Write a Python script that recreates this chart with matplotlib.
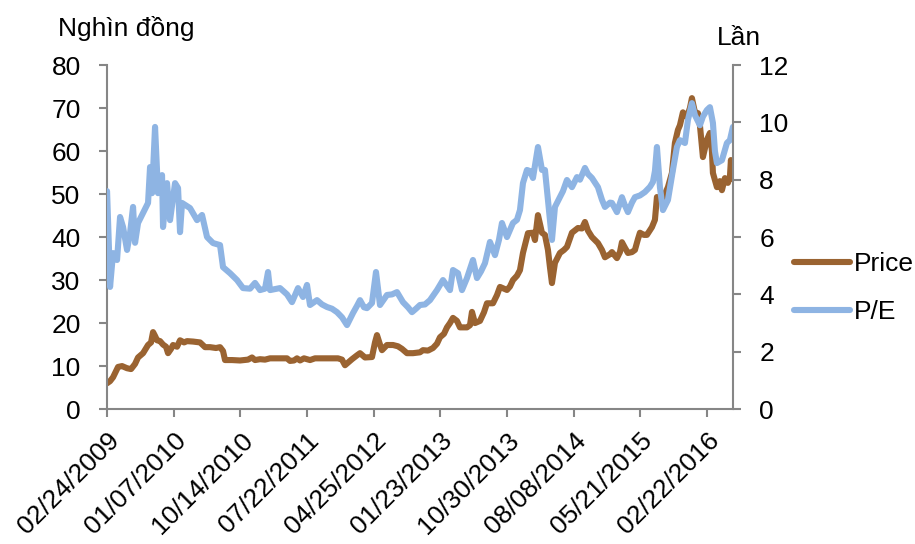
import matplotlib
matplotlib.use("Agg")
import matplotlib.pyplot as plt
from matplotlib.lines import Line2D

plt.rcParams['font.family'] = ['Liberation Sans', 'DejaVu Sans']

# trading-session index (tick labels every 200 sessions) and closing price, thousand VND
price_day = [0, 9, 18, 33, 45, 60, 72, 84, 93, 108, 123, 132, 138, 144, 150, 159, 168, 177,
             183, 192, 198, 210, 219, 231, 240, 258, 279, 294, 309, 327, 339, 348, 354, 375,
             399, 423, 435, 444, 459, 474, 489, 519, 540, 549, 561, 570, 579, 591, 609, 624,
             639, 669, 693, 705, 714, 726, 735, 750, 759, 774, 795, 804, 810, 819, 825, 840,
             858, 873, 885, 900, 918, 939, 948, 963, 978, 990, 999, 1011, 1020, 1029, 1038,
             1050, 1059, 1080, 1089, 1095, 1104, 1119, 1131, 1140, 1158, 1170, 1179, 1191,
             1200, 1209, 1218, 1230, 1239, 1248, 1263, 1278, 1284, 1293, 1305, 1314, 1323,
             1329, 1335, 1344, 1359, 1371, 1380, 1395, 1413, 1425, 1434, 1443, 1455, 1473,
             1485, 1494, 1509, 1515, 1530, 1539, 1545, 1554, 1563, 1575, 1584, 1593, 1599,
             1611, 1620, 1635, 1644, 1650, 1659, 1665, 1674, 1683, 1695, 1704, 1713, 1719,
             1728, 1740, 1749, 1755, 1764, 1773, 1779, 1788, 1800, 1809, 1815, 1818, 1830,
             1839, 1845, 1854, 1863, 1869, 1872, 1878]
price = [6.0, 6.5, 7.4, 9.8, 10.0, 9.5, 9.3, 10.5, 12.0, 13.0, 14.9, 15.5, 17.9, 17.0, 16.0,
         15.8, 15.0, 14.5, 13.0, 14.0, 14.9, 14.5, 16.0, 15.5, 15.8, 15.7, 15.5, 14.4, 14.4,
         14.2, 14.4, 13.5, 11.4, 11.4, 11.3, 11.5, 12.0, 11.4, 11.6, 11.5, 11.8, 11.8, 11.8,
         11.2, 11.3, 11.8, 11.3, 11.8, 11.4, 11.8, 11.8, 11.8, 11.8, 11.5, 10.2, 11.0, 11.6,
         12.5, 13.0, 12.0, 12.1, 15.5, 17.2, 15.0, 13.7, 14.9, 14.9, 14.6, 14.0, 13.0, 13.0,
         13.2, 13.7, 13.6, 14.2, 15.2, 16.7, 17.5, 19.0, 20.0, 21.2, 20.5, 19.0, 19.0, 19.5,
         22.6, 20.0, 20.5, 22.5, 24.6, 24.6, 26.5, 28.4, 28.0, 27.7, 28.5, 30.0, 31.0, 32.3,
         36.3, 40.9, 41.0, 39.3, 45.1, 41.0, 40.5, 37.0, 33.0, 29.3, 34.0, 36.3, 37.0, 37.7,
         41.0, 42.1, 42.0, 43.5, 41.5, 40.0, 38.6, 37.0, 35.3, 36.0, 36.5, 35.1, 36.5, 38.8,
         37.5, 36.3, 36.5, 37.0, 39.5, 41.0, 40.5, 40.5, 42.3, 44.0, 49.3, 48.6, 48.6, 50.0,
         51.6, 54.9, 61.9, 64.9, 66.0, 69.0, 67.9, 70.0, 72.3, 69.0, 68.8, 66.0, 58.6, 62.6,
         64.2, 60.0, 54.9, 51.6, 53.0, 50.9, 53.7, 52.6, 54.0, 57.9, 53.5]

# P/E ratio, times
pe_day = [0, 6, 9, 18, 30, 39, 48, 60, 69, 78, 84, 93, 108, 123, 129, 135, 144, 153, 165,
          168, 180, 189, 204, 213, 219, 225, 249, 270, 285, 300, 318, 339, 348, 369, 390,
          408, 429, 444, 459, 474, 483, 489, 519, 540, 555, 573, 588, 600, 609, 630, 645,
          660, 675, 690, 705, 720, 738, 750, 759, 771, 780, 795, 807, 819, 840, 855, 870,
          888, 903, 915, 927, 939, 954, 969, 990, 1008, 1029, 1038, 1053, 1065, 1080, 1098,
          1110, 1122, 1134, 1149, 1164, 1176, 1185, 1200, 1218, 1230, 1239, 1248, 1260,
          1269, 1278, 1293, 1305, 1314, 1323, 1335, 1344, 1359, 1368, 1380, 1395, 1410,
          1419, 1434, 1443, 1455, 1473, 1485, 1494, 1509, 1515, 1530, 1545, 1554, 1563,
          1575, 1584, 1599, 1614, 1629, 1638, 1644, 1650, 1659, 1668, 1683, 1698, 1710,
          1719, 1734, 1743, 1755, 1764, 1779, 1788, 1800, 1809, 1818, 1824, 1830, 1845,
          1860, 1869, 1878]
pe = [7.6, 5.5, 4.26, 5.44, 5.2, 6.7, 6.35, 5.55, 6.14, 7.05, 5.8, 6.49, 6.84, 7.19, 8.44,
      7.53, 9.84, 7.53, 8.16, 6.35, 7.88, 6.59, 7.88, 7.71, 6.17, 7.19, 7.01, 6.59, 6.77, 6.0,
      5.79, 5.72, 4.95, 4.74, 4.5, 4.22, 4.2, 4.4, 4.15, 4.2, 4.78, 4.15, 4.22, 4.0, 3.73,
      4.22, 3.91, 4.33, 3.63, 3.8, 3.65, 3.56, 3.5, 3.38, 3.2, 2.93, 3.35, 3.6, 3.8, 3.55,
      3.52, 3.7, 4.78, 3.63, 3.98, 4.0, 4.08, 3.73, 3.55, 3.38, 3.5, 3.63, 3.65, 3.8, 4.15,
      4.5, 4.15, 4.85, 4.74, 4.15, 4.57, 5.2, 4.57, 4.8, 5.09, 5.83, 5.37, 5.9, 6.49, 6.0,
      6.49, 6.6, 6.94, 7.88, 8.34, 8.3, 8.06, 9.14, 8.34, 8.34, 7.29, 5.9, 7.05, 7.39, 7.6,
      7.99, 7.74, 8.09, 8.0, 8.41, 8.2, 8.06, 7.74, 7.3, 7.05, 7.2, 7.19, 6.87, 7.39, 7.1,
      6.87, 7.2, 7.39, 7.45, 7.57, 7.75, 7.92, 8.3, 9.14, 7.74, 6.94, 7.29, 8.34, 9.14,
      9.38, 9.28, 10.08, 10.67, 10.25, 9.9, 10.2, 10.43, 10.53, 9.98, 9.0, 8.58, 8.68,
      9.28, 9.38, 9.84]

date_labels = ['02/24/2009', '01/07/2010', '10/14/2010', '07/22/2011', '04/25/2012',
               '01/23/2013', '10/30/2013', '08/08/2014', '05/21/2015', '02/22/2016']
label_step = 200
last_day = 1878

price_color = '#9A6331'
pe_color = '#8EB4E3'
axis_color = '#868686'
fs = 19
lw = 4.4

fig = plt.figure(figsize=(9.15, 5.44), dpi=100)
ax = fig.add_axes([0.117, 0.248, 0.684, 0.6325])
ax2 = ax.twinx()

ax.plot(price_day, price, color=price_color, linewidth=lw, solid_capstyle='round',
        solid_joinstyle='round')
ax2.plot(pe_day, pe, color=pe_color, linewidth=lw, solid_capstyle='round',
         solid_joinstyle='round')

ax.set_xlim(0, last_day)
ax.set_ylim(0, 80)
ax2.set_ylim(0, 12)
ax.set_yticks(range(0, 81, 10))
ax2.set_yticks(range(0, 13, 2))
ax.set_xticks([i * label_step for i in range(len(date_labels))])
ax.set_xticklabels(date_labels, rotation=45, ha='right', va='top', rotation_mode='anchor')

for a in (ax, ax2):
    for side in ('left', 'right', 'bottom', 'top'):
        a.spines[side].set_color(axis_color)
        a.spines[side].set_linewidth(1.5)
    a.spines['top'].set_visible(False)
ax.spines['right'].set_visible(False)
ax2.spines['left'].set_visible(False)
ax2.spines['bottom'].set_visible(False)

ax.tick_params(axis='y', direction='out', length=6, width=1.5, color=axis_color,
               labelsize=fs, pad=13)
ax.tick_params(axis='x', direction='out', length=6, width=1.5, color=axis_color,
               labelsize=fs, pad=8)
ax2.tick_params(axis='y', direction='out', length=6, width=1.5, color=axis_color,
                labelsize=fs, pad=13)

fig.text(0.063, 0.948, 'Nghìn đồng', fontsize=fs, ha='left', va='center')
fig.text(0.784, 0.93, 'Lần', fontsize=fs, ha='left', va='center')

handles = [Line2D([], [], color=price_color, linewidth=lw, solid_capstyle='round'),
           Line2D([], [], color=pe_color, linewidth=lw, solid_capstyle='round')]
fig.legend(handles, ['Price', 'P/E'], loc='center left', bbox_to_anchor=(0.868, 0.47),
           frameon=False, fontsize=fs, handlelength=2.1, handletextpad=0.15,
           labelspacing=0.9, borderpad=0, borderaxespad=0)

fig.savefig('out.png', dpi=100)
